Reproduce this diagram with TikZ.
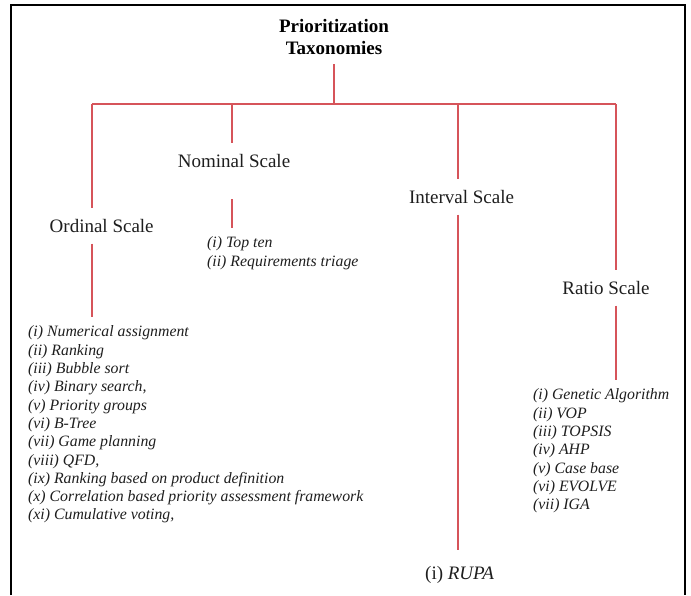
\documentclass[tikz,border=0pt]{standalone}
\usepackage{fontspec}
\setmainfont{Liberation Serif}
\usepackage{tikz}
\usetikzlibrary{calc}
\definecolor{treered}{RGB}{214,84,90}
\definecolor{inktext}{RGB}{30,30,30}
\tikzset{
  treeline/.style={treered, line width=1.5pt},
  scalelabel/.style={anchor=base, text=inktext, font=\fontsize{19}{22}\selectfont,
    text height=13pt, text depth=0pt, inner ysep=11pt},
  methodlist/.style={anchor=north west, align=left, text=inktext, inner xsep=0pt,
    inner ysep=9pt, font=\fontsize{15.8}{18.3}\selectfont\itshape}
}

\begin{document}
\begin{tikzpicture}[x=1pt,y=-1pt]
    \useasboundingbox (0,0) rectangle (691,595);
    \draw[line width=2pt] (11,595) -- (11,5) -- (685,5) -- (685,595);
    \node[anchor=south, inner ysep=9.5pt, align=center, font=\fontsize{19}{22}\selectfont\bfseries] (title) at (334,64) {Prioritization\\Taxonomies};
    \coordinate (jO) at (92,104);
    \coordinate (jN) at (232,104);
    \coordinate (jI) at (458,104);
    \coordinate (jR) at (616,104);
    \node[scalelabel] (ordinal) at (101.7,232.5) {Ordinal Scale};
    \node[scalelabel] (nominal) at (234,167.5) {Nominal Scale};
    \node[scalelabel] (interval) at (461.5,203.5) {Interval Scale};
    \node[scalelabel] (ratio) at (606,294.5) {Ratio Scale};
    \node[methodlist] (ordlist) at (28,316.8) {(i) Numerical assignment\\(ii) Ranking\\(iii) Bubble sort\\(iv) Binary search,\\(v) Priority groups\\(vi) B-Tree\\(vii) Game planning\\(viii) QFD,\\(ix) Ranking based on product definition\\(x) Correlation based priority assessment framework\\(xi) Cumulative voting,};
    \node[methodlist] (nomlist) at (207,227.8) {(i) Top ten\\(ii) Requirements triage};
    \node[methodlist] (ratiolist) at (533,379.8) {(i) Genetic Algorithm\\(ii) VOP\\(iii) TOPSIS\\(iv) AHP\\(v) Case base\\(vi) EVOLVE\\(vii) IGA};
    \node[anchor=base west, text=inktext, inner xsep=0pt, inner ysep=16.5pt, text height=13pt, text depth=0pt, font=\fontsize{19}{22}\selectfont] (rupa) at (425,579.5) {(i) \textit{RUPA}};
    \draw[treeline] (title.south) -- (title.south |- jO);
    \draw[treeline] (jO) -- (jR);
    \draw[treeline] (jO) -- (jO |- ordinal.north);
    \draw[treeline] (jN) -- (jN |- nominal.north);
    \draw[treeline] (jI) -- (jI |- interval.north);
    \draw[treeline] (jR) -- (jR |- ratio.north);
    \draw[treeline] (jO |- ordinal.south) -- (jO |- ordlist.north);
    \draw[treeline] ($(jN |- nominal.south)+(0,20.5)$) -- (jN |- nomlist.north);
    \draw[treeline] (jI |- interval.south) -- (jI |- rupa.north);
    \draw[treeline] (jR |- ratio.south) -- (jR |- ratiolist.north);
\end{tikzpicture}
\end{document}
